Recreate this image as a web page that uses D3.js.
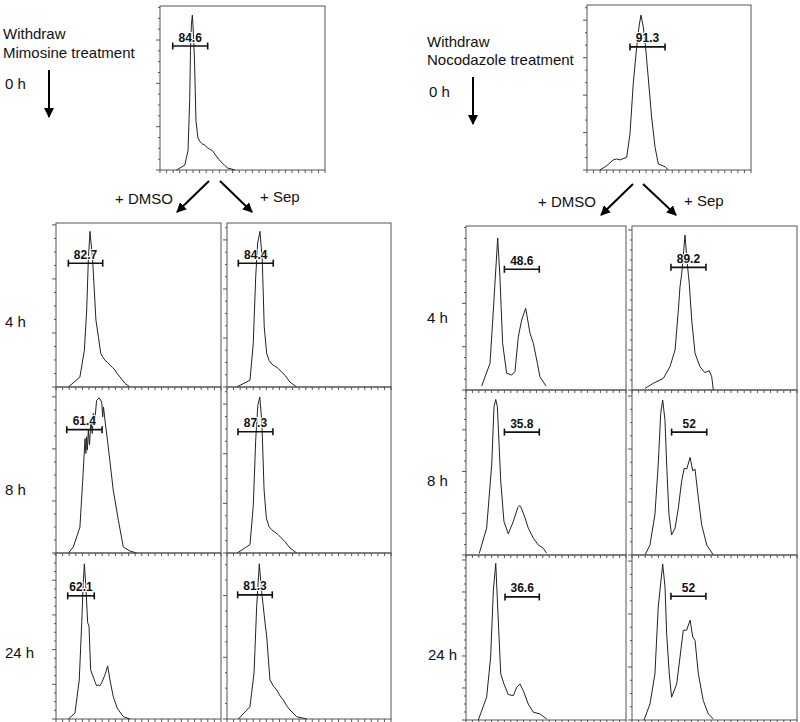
<!DOCTYPE html>
<meta charset="utf-8">
<style>
  body { margin: 0; background: #fff; }
  text { font-family: "Liberation Sans", Arial, sans-serif; fill: #111; }
  .frame { fill: none; stroke: #555; stroke-width: 1; }
  .curve { fill: none; stroke: #222; stroke-width: 1; }
  .tick { stroke: #555; stroke-width: 1; }
  .gate { stroke: #111; stroke-width: 1.6; }
  .glabel { font-size: 12px; font-weight: bold; text-anchor: middle; stroke: #fff; stroke-width: 2px; paint-order: stroke; }
  .lbl { font-size: 15px; }
  .arr { stroke: #000; stroke-width: 2; }
</style>
<body>
<script src="https://cdn.jsdelivr.net/npm/d3@7"></script>
<script>

// histogram traces: [channel (0-1000), % of frame height]
var mim0h = [[100,0],[120,1.2],[150,3],[170,12],[180,43],[185,73],[190,88],[196,94.5],[200,88],[209,67],[218,30],[230,19.5],[245,17],[255,16],[270,15.2],[290,13.4],[305,12.5],[318,11.8],[327,10.4],[350,7.3],[376,4.3],[392,2.8],[410,1.2],[455,0]];
var mimDmso4h = [[75,0],[145,6.1],[172,22.4],[186,47],[196,77.5],[206,94.9],[222,77.5],[242,40.8],[257,30.6],[271,20.6],[285,18],[297,16.3],[312,15],[327,13.3],[342,12],[358,10.2],[372,8],[388,6.1],[418,2.2],[448,0]];
var mimSep4h = [[59,0],[140,4.1],[160,26.5],[175,67],[187,87.8],[201,94.9],[215,77.5],[227,36.7],[242,20.4],[258,16],[274,13.9],[292,12.8],[313,11.3],[334,9],[354,7.1],[384,3],[425,0]];
var mimDmso8h = [[75,0],[105,3.6],[145,15.6],[162,43.8],[176,68.9],[181,60],[185,70],[190,62],[196,74],[203,65],[212,80],[220,72],[226,84],[233,77],[246,91.9],[262,93.5],[277,90.9],[283,82],[288,88],[297,79.7],[317,63.7],[347,37.8],[378,19.7],[408,3.6],[448,1.2],[489,0]];
var mimSep8h = [[62,0],[140,5],[160,28],[175,68],[188,89],[200,94],[213,78],[226,38],[240,21],[256,16],[272,14],[292,12.6],[312,11],[332,9],[352,7],[384,3],[425,0]];
var mimDmso24h = [[75,0],[115,3.6],[141,23.5],[156,58],[165,82.1],[172,93.5],[182,77.8],[192,58],[200,55.9],[210,29.6],[236,22.5],[246,20],[256,20.5],[266,20],[277,21.9],[297,26.6],[313,32],[327,23.5],[347,13.5],[371,6.5],[408,1.4],[448,0]];
var mimSep24h = [[69,0],[140,7.4],[165,27.8],[181,68],[197,93.5],[212,75.9],[232,57.9],[242,49.9],[262,23.5],[282,20],[303,17.5],[323,14],[343,11.5],[364,8],[384,5.4],[425,1.4],[486,0]];

var noc0h = [[79,0],[120,2.6],[160,6.1],[181,6.7],[201,6.1],[242,7.7],[262,21.7],[282,52.3],[303,74.6],[317,86.8],[329,93.9],[343,86.8],[357,74.6],[373,56.4],[394,32],[415,13.8],[435,3.6],[476,2],[496,0]];
var nocDmso4h = [[98,2.4],[150,16.3],[171,48.8],[198,92.7],[212,69.1],[229,28.5],[254,10.2],[286,9.1],[306,11.2],[327,32.5],[348,42.7],[373,49.8],[400,34.6],[421,28.5],[446,16.3],[462,8.1],[500,2.4]];
var nocSep4h = [[79,1],[129,4.1],[190,7.1],[230,14.2],[261,24.4],[281,48.8],[291,63],[300,70],[307,77.2],[321,94.5],[335,77.2],[342,70],[347,65],[362,42.7],[382,22.4],[412,14.2],[442,10.6],[468,11.8],[483,8.1],[493,0]];
var nocDmso8h = [[83,1],[129,16.3],[161,55.1],[175,89.8],[186,94.3],[196,89.8],[217,44.9],[237,20.4],[264,12.9],[296,20.4],[323,28.6],[335,30],[344,29],[369,22.5],[389,16.3],[421,10.2],[452,6.1],[483,4.1],[504,1]];
var nocSep8h = [[79,0],[109,6.1],[139,24.5],[159,55.1],[174,85.8],[186,93.9],[200,81.6],[210,55.1],[224,24.5],[240,12.2],[261,16.3],[281,28.6],[301,44.9],[317,52.7],[332,52.1],[352,59.2],[368,51],[382,52.1],[402,34.7],[422,18.4],[453,6.1],[493,0]];
var nocDmso24h = [[77,0],[129,13.8],[154,38.1],[171,78.7],[186,94.9],[198,68.5],[217,28],[237,21.9],[264,15.4],[296,14.8],[317,19.9],[337,21.9],[358,17.8],[389,9.7],[421,4.7],[462,3.7],[504,0.6]];
var nocSep24h = [[73,0],[109,9.7],[139,28],[159,68.5],[186,94.5],[200,80.7],[210,52.3],[226,28],[240,13.8],[271,21.9],[291,38.1],[311,54.4],[331,54.4],[352,60.5],[368,50.3],[382,48.3],[402,28],[432,11.8],[462,3.7],[493,0.6]];

// gates: [lo, hi, level %] and their printed percentages
var gateLabels = ["84.6", "82.7", "84.4", "61.4", "87.3", "62.1", "81.3",
                  "91.3", "48.6", "89.2", "35.8", "52", "36.6", "52"];
var gateRanges = [[77,289,75.6],[75,283,75.5],[69,282,75.5],[65,279,74.3],[67,280,73],[71,232,74.2],[65,276,74.8],
                  [262,476,74.6],[240,458,73.6],[236,448,74.8],[240,458,74.5],[240,453,74.5],[244,458,74.6],[236,448,75]];
// y-axis top count per panel (ticks every 50, labelled every 200)
var yTops = [757, 607, 669, 638, 669, 957, 538, 661, 757, 820, 791, 623, 1031, 623];

var series = [mim0h, mimDmso4h, mimSep4h, mimDmso8h, mimSep8h, mimDmso24h, mimSep24h,
              noc0h, nocDmso4h, nocSep4h, nocDmso8h, nocSep8h, nocDmso24h, nocSep24h];

// panel frames on the page
var frames = [
  [160, 6, 165, 164],
  [56, 223, 165, 164], [227, 223, 164, 164],
  [56, 387, 165, 166], [227, 387, 164, 166],
  [56, 553, 165, 166], [227, 553, 164, 166],
  [587, 5, 164, 165],
  [466, 226, 160, 164], [632, 226, 165, 164],
  [466, 390, 160, 165], [632, 390, 165, 165],
  [466, 555, 160, 165], [632, 555, 165, 165]
];

var svg = d3.select("body").append("svg")
    .attr("width", 800)
    .attr("height", 722);

svg.append("defs").append("marker")
    .attr("id", "head")
    .attr("viewBox", "0 0 10 10")
    .attr("refX", 9).attr("refY", 5)
    .attr("markerWidth", 5).attr("markerHeight", 5)
    .attr("markerUnits", "strokeWidth")
    .attr("orient", "auto")
  .append("path")
    .attr("d", "M0,0 L10,5 L0,10 z")
    .attr("fill", "#000");

frames.forEach(function(f, i) {
  var w = f[2], h = f[3];
  var g = svg.append("g").attr("transform", "translate(" + f[0] + "," + f[1] + ")");
  var x = d3.scaleLinear().domain([0, 1000]).range([0, w]);
  var y = d3.scaleLinear().domain([0, 100]).range([h, 0]);
  var yc = d3.scaleLinear().domain([0, yTops[i]]).range([h, 0]);

  // x ticks below the frame
  g.selectAll("line.xt").data(d3.range(0, 1001, 40)).enter()
    .append("line").attr("class", "tick")
    .attr("x1", function(d) { return x(d); }).attr("x2", function(d) { return x(d); })
    .attr("y1", h).attr("y2", h + 3);

  // y ticks left of the frame
  var step = i === 7 ? 150 : 200;
  g.selectAll("line.yt").data(d3.range(0, yTops[i], 50)).enter()
    .append("line").attr("class", "tick")
    .attr("x1", function(d) { return d % step === 0 ? -4 : -2; }).attr("x2", 0)
    .attr("y1", function(d) { return yc(d); }).attr("y2", function(d) { return yc(d); });

  g.append("rect").attr("class", "frame")
    .attr("width", w).attr("height", h);

  var line = d3.line()
    .x(function(d) { return x(d[0]); })
    .y(function(d) { return y(d[1]); });
  g.append("path").attr("class", "curve").attr("d", line(series[i]));

  var gr = gateRanges[i];
  var gy = y(gr[2]);
  g.append("line").attr("class", "gate")
    .attr("x1", x(gr[0])).attr("x2", x(gr[1])).attr("y1", gy).attr("y2", gy);
  [gr[0], gr[1]].forEach(function(v) {
    g.append("line").attr("class", "gate").attr("stroke-width", 1.2)
      .attr("x1", x(v)).attr("x2", x(v)).attr("y1", gy - 3.5).attr("y2", gy + 3.5);
  });
  g.append("text").attr("class", "glabel")
    .attr("x", x((gr[0] + gr[1]) / 2)).attr("y", gy - 4.5)
    .text(gateLabels[i]);
});

// annotations
var texts = [
  ["Withdraw", 3, 39], ["Mimosine treatment", 3, 58], ["0 h", 5, 89],
  ["Withdraw", 427, 47], ["Nocodazole treatment", 427, 65], ["0 h", 429, 97],
  ["+ DMSO", 115, 204], ["+ Sep", 260, 202], ["+ DMSO", 538, 207], ["+ Sep", 684, 206],
  ["4 h", 5, 327], ["8 h", 5, 495], ["24 h", 5, 658],
  ["4 h", 427, 323], ["8 h", 427, 486], ["24 h", 428, 660]
];
svg.selectAll("text.lbl").data(texts).enter()
  .append("text").attr("class", "lbl")
  .attr("x", function(d) { return d[1]; })
  .attr("y", function(d) { return d[2]; })
  .text(function(d) { return d[0]; });

var arrows = [
  [49, 70, 49, 117], [473, 77, 473, 124],
  [209, 181, 177, 212], [220, 181, 252, 212],
  [633, 184, 601, 215], [643, 184, 676, 215]
];
svg.selectAll("line.arr").data(arrows).enter()
  .append("line").attr("class", "arr")
  .attr("x1", function(d) { return d[0]; }).attr("y1", function(d) { return d[1]; })
  .attr("x2", function(d) { return d[2]; }).attr("y2", function(d) { return d[3]; })
  .attr("marker-end", "url(#head)");

</script>
